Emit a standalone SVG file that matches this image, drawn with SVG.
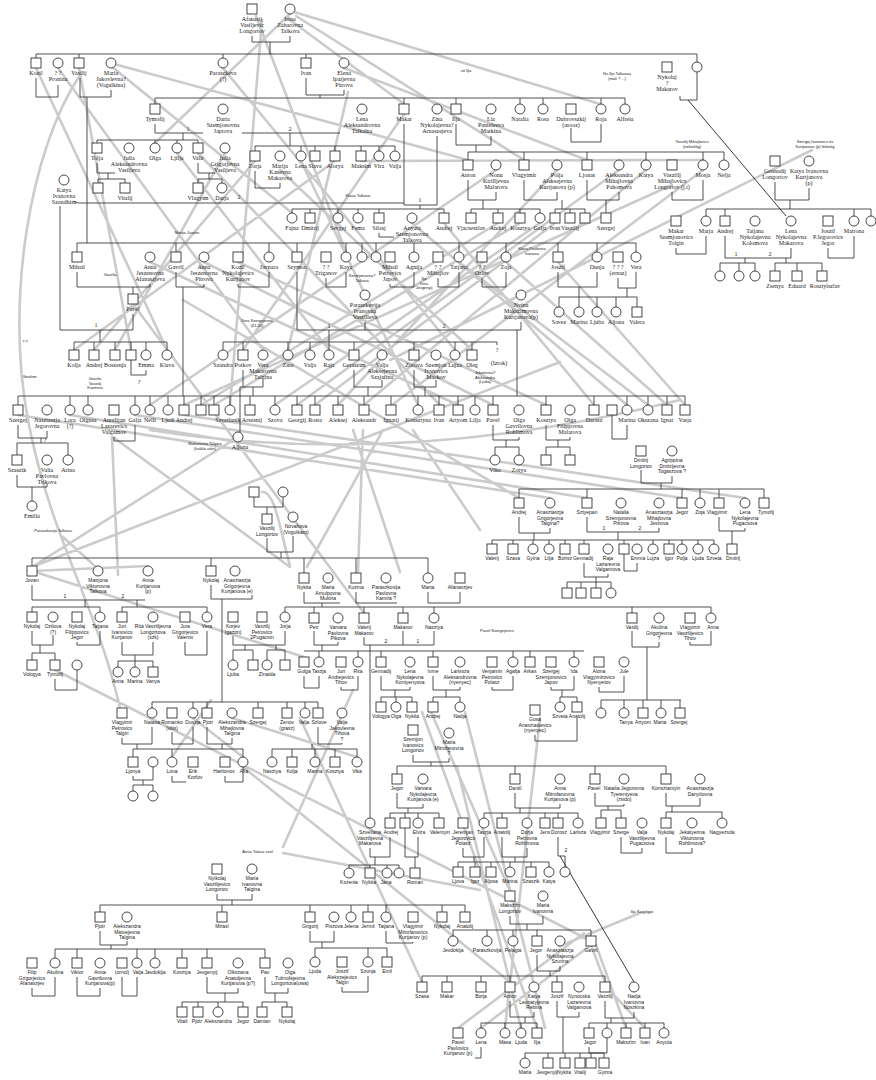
<svg xmlns="http://www.w3.org/2000/svg" width="876" height="1080" viewBox="0 0 876 1080">
<style>
.n{fill:#fff;stroke:#333;stroke-width:0.9}
.l{fill:none;stroke:#333;stroke-width:0.85}
.k{fill:none;stroke:#222;stroke-width:0.9}
.g{fill:none;stroke:#cbcbcb;stroke-width:2.6;stroke-linecap:round}
text{fill:#1a1a1a;text-anchor:middle}
.t{font-family:"Liberation Serif",serif;font-size:6px}
.u{font-family:"Liberation Sans",sans-serif;font-size:5px}
.a{font-family:"Liberation Sans",sans-serif;font-size:4px;fill:#b5b5b5}
</style>
<defs>
<rect id="s" class="n" x="-5" y="-5" width="10" height="10"/>
<circle id="c" class="n" r="5"/>
</defs>
<rect width="876" height="1080" fill="#fff"/>
<g id="connectors">
<path class="g" d="M290,14L155,143 M294,12L600,104 M296,16L524,160 M256,16L346,252 M262,20L230,405 M286,17L404,104 M36,68L167,350 M58,68L263,350 M80,75C30,150 5,300 28,420S95,600 120,708 M111,66L292,213 M114,64L468,160 M223,68L455,350 M344,68L587,160 M348,92L288,350 M404,114L243,350 M79,68L131,350 M177,153L329,350 M198,153L440,405 M225,153L115,350 M255,161L94,350 M280,170L472,350 M301,161L418,405 M335,161L74,350 M361,161L703,160 M379,161L646,160 M812,150L390,360 M496,170L150,405 M557,170L338,405 M619,170L297,405 M646,170L364,405 M672,185L184,405 M703,170L392,405 M498,223L201,405 M520,223L214,405 M540,223L275,405 M555,223L315,405 M444,223L594,405 M412,223L627,405 M558,262L685,405 M506,262L667,405 M459,262L648,405 M150,262L458,405 M204,262L493,405 M238,262L546,405 M133,304L364,613 M183,300L519,498 M18,415L550,498 M70,415L587,498 M135,415L682,498 M184,415L745,498 M32,567L560,362 M32,567L238,437 M112,437L118,575 M113,437L290,567 M63,537L97,568 M262,492C275,490 280,530 290,566 M363,430L358,572 M383,430L307,567 M353,430L400,572 M413,430L480,530 M32,571L304,657 M32,571L148,566 M55,670L591,941 M283,847L353,690 M283,853L480,890 M211,700L172,757 M193,718L243,757 M232,718L357,757 M243,767L510,982 M300,718L422,982 M431,712L510,891 M465,712L545,1028 M458,1028L584,933 M481,1028L591,945 M505,1028L540,718 M521,1028L457,767 M537,1028L422,712 M605,982L591,945 M596,945L626,1028 M611,992L645,1028 M560,946L640,913 M150,430Q400,470 680,400"/>
<path class="l" d="M252,36V42H290V36 M270,42V54 M36,54H697 M36,54V58 M79,54V58 M223,54V58 M306,54V58 M697,54V62 M36,78V97H58V85 M80,78V97H111V90 M87,97V243 M306,78V95H344V90 M320,95V98 M155,98H625 M155,98V104 M404,98V104 M456,98V104 M520,98V104 M543,98V104 M601,98V104 M625,98V104 M680,96V100H697V72
M155,124V133H203 M242,133H340 M183,133V140 M97,140H198 M97,140V143 M155,140V143 M177,140V143 M198,140V143 M290,133V146 M255,146H395 M255,146V151 M301,146V151 M315,146V151 M335,146V151 M361,146V151 M379,146V151 M395,146V151
M97,163V173H115 M108,173V179 M98,179H125 M98,179V183 M125,179V183 M198,163V173H215 M209,173V179 M198,179H222 M198,179V183 M222,179V183 M255,171V188H280V183
M404,124V205H437V136 M73,201L78,203H404 M420,205V209 M292,209H444 M292,209V213 M310,209V213 M338,209V213 M358,209V213 M379,209V213 M444,209V213 M379,233V237H394
M456,124V145H491V136 M476,145V152 M468,152H724 M468,152V160 M524,152V160 M587,152V160 M646,152V160 M703,152V160 M724,152V160
M468,180V200H496V192 M483,200V209 M471,209H540 M471,209V213 M498,209V213 M520,209V213 M540,209V213 M524,180V200H557V192 M562,200V209 M555,209H585 M555,209V213 M570,209V213 M585,209V213 M587,180V200H619V192 M606,200V213 M672,192V200H703V180 M571,128V142H601V124
M775,182V200H809V188 M790,200V209 M706,209H871 M706,209V216 M725,209V216 M854,209V216 M871,209V216 M676,248V254H706V236 M725,236V258H791V248 M745,258V263 M720,263H755 M720,263V271 M739,263V271 M755,263V271 M786,258V263 M775,263H822 M775,263V271 M797,263V271 M822,263V271 M828,248V258H854V236
M77,243H636 M77,243V252 M176,243V252 M269,243V252 M297,243V252 M346,243V252 M362,243V252 M376,243V252 M414,243V252 M459,243V252 M506,243V252 M558,243V252 M597,243V252 M636,243V252
M77,272V287H150V284 M133,287V294 M176,272V287H204V284 M183,287V396 M238,284V287H269V272 M326,278V287H346V272 M390,284V287H414V272 M438,278V287H459V272 M482,278V287H506V272 M558,272V287H597V272 M618,278V288H636V272 M579,287V297 M627,288V297 M559,297H637 M559,297V307 M579,297V307 M597,297V307 M616,297V307 M637,297V307
M297,272V330H521V322 M365,322V330 M329,330V342 M223,342H497 M223,342V350 M243,342V350 M288,342V350 M310,342V350 M329,342V350 M354,342V350 M414,342V350 M455,342V350 M472,342V350 M497,342V345 M517,330V396
M60,206V330H133V314 M100,330V342 M74,342H167 M74,342V350 M94,342V350 M115,342V350 M131,342V350 M146,342V350 M167,342V350 M131,360V375H146V370
M243,370V387H263V380 M240,387H243 M240,387V432 M253,387V396 M354,370V387H382V380 M368,387V396 M414,370V387H436V380 M425,387V396
M18,396H685 M18,396V405 M70,396V405 M88,396V405 M135,396V405 M150,396V405 M168,396V405 M184,396V405 M201,396V405 M214,396V405 M230,396V405 M250,396V405 M275,396V405 M297,396V405 M315,396V405 M338,396V405 M364,396V405 M391,396V405 M418,396V405 M439,396V405 M458,396V405 M475,396V405 M493,396V405 M546,396V405 M594,396V405 M627,396V405 M648,396V405 M667,396V405 M685,396V405
M18,425V438H47V431 M41,438V443 M17,443H68 M17,443V455 M68,443V455 M17,475V487H47V484 M32,487V501 M114,437V441H135V425 M493,425V440H519V437 M506,440V447 M495,447H519 M495,447V455 M519,447V455 M546,425V440H570V437 M558,440V447 M546,447H570 M546,447V455 M570,447V455 M612,415V439H627V425
M254,497V507H283V497 M267,507V514 M267,538V552H293V536 M281,552V558 M32,558H428 M32,558V566 M211,558V566 M304,558V573 M356,558V573 M428,558V573
M32,585V600H145 M85,600V607 M32,607H100 M32,607V612 M100,607V612 M137,600V607 M122,607H207 M122,607V612 M207,607V612 M211,585V599H252V595 M222,599V702 M304,592V603H340 M322,603V607 M356,592V603H397 M428,592V603H460V592
M285,607H711 M285,607V612 M314,607V613 M364,607V613 M403,607V613 M434,607V613 M632,607V613 M711,607V613
M32,631V645H53V635 M40,645V653 M32,653H55 M32,653V660 M55,653V660 M55,679V690H77V670 M77,642V645H100V631 M122,642V655H153V642 M135,655V661 M118,661H153 M118,661V667 M135,661V667 M153,661V667 M185,642V655H207V631 M233,636V645H285V631 M245,645V650 M233,650H253 M233,650V660 M253,650V660 M276,645V650 M267,650H285 M267,650V660 M285,650V660
M314,631V645H338V642 M322,645V651 M304,651H584 M319,651V657 M358,651V657 M381,651V657 M433,651V657 M513,651V657 M530,651V657 M574,651V657 M364,637V645H434V631 M403,631V645 M370,645V818
M632,631V647H659V642 M647,647V700 M601,700H681 M601,700V708 M624,700V708 M643,700V708 M661,700V708 M680,700V708 M690,642V645H711V631
M304,676V688H319V676 M341,687V690H358V676 M381,676V690H410V687 M395,690V697 M381,697H412 M381,697V702 M396,697V702 M412,697V702 M433,676V690H460V687 M446,690V697 M433,697H460 M433,697V702 M460,697V702 M492,687V690H513V676 M551,687V690H574V676 M562,690V697 M560,697H577 M560,697V702 M577,697V702 M599,687V692H624V676 M535,735V741H577V718
M641,470V483H672V476 M661,483V489 M519,489H764 M519,489V498 M587,489V498 M682,489V498 M700,489V498 M719,489V498 M764,489V498 M519,517V533H550V528 M534,533V540 M587,517V532H659V528 M618,532V540 M719,517V531H745V528 M732,531V544
M492,540H714 M492,540V544 M513,540V544 M533,540V544 M549,540V544 M565,540V544 M584,540V544 M624,540V544 M653,540V544 M669,540V544 M682,540V544 M698,540V544 M714,540V544 M584,563V577H608V574 M596,577V582 M567,582H611 M567,582V588 M581,582V588 M596,582V588 M611,582V588 M624,554V571H637V563
M413,755V762H449V758 M431,762V766 M397,766H666 M397,766V774 M515,766V774 M595,766V774 M666,766V774
M397,793V808H423V804 M408,808V813 M390,813H439 M390,813V818 M405,813V818 M418,813V818 M439,813V818 M515,793V808H560V804 M520,808V813 M484,813H578 M484,813V818 M502,813V818 M545,813V818 M558,813V818 M578,813V818 M595,793V806H624V804 M608,806V810 M601,810H621 M601,810V818 M621,810V818 M666,793V806H700V798 M672,806V812 M666,812H722 M666,812V818 M722,812V818
M370,848V857H390V837 M375,857V865 M349,865H399 M349,865V868 M370,865V868 M387,865V868 M399,865V868 M405,828V857H418V837 M415,857V868 M463,848V857H484V837 M502,837V857H527V848 M474,857V862 M515,857V862 M458,862H549 M458,862V867 M475,862V867 M491,862V867 M510,862V867 M531,862V867 M549,862V867 M558,837V856H565V867 M621,837V853H642V848 M666,837V853H692V848
M510,916V924H543V916 M527,924V930 M453,930H591 M453,930V936 M487,930V936 M513,930V936 M537,930V936 M591,930V936 M537,955V971H560V966 M550,971V976 M422,976H605 M422,976V982 M447,976V982 M481,976V982 M510,976V982 M557,976V982 M605,976V982
M510,1001V1017H534V1012 M525,1017V1023 M481,1023H537 M481,1023V1028 M505,1023V1028 M521,1023V1028 M537,1023V1028 M481,1047V1058H475 M557,1001V1017H579V1012 M563,1017V1053 M525,1053H604 M525,1053V1058 M548,1053V1058 M565,1053V1058 M580,1053V1058 M591,1053V1058 M604,1053V1058 M605,1001V1018H634V1012 M611,1018V1023 M589,1023H664 M589,1023V1028 M607,1023V1028 M626,1023V1028 M645,1023V1028 M664,1023V1028 M589,1047V1053H607V1038
M217,894V900H252V894 M232,900V905 M100,905H465 M100,905V912 M222,905V912 M310,905V912 M351,905V912 M368,905V912 M386,905V912 M442,905V912 M465,905V912 M310,931V942H334V931 M322,942V948 M315,948H387 M315,948V957 M368,948V957 M387,948V957 M342,987V992H368V976 M386,931V943H413V942
M100,931V945H127V941 M111,945V949 M55,949H265 M55,949V958 M77,949V958 M137,949V958 M155,949V958 M182,949V958 M207,949V958 M265,949V958 M32,988V996H55V977 M77,977V996H100V988 M122,977V996H137V977 M207,977V993H238V988 M225,993V1002 M182,1002H243 M182,1002V1007 M198,1002V1007 M218,1002V1007 M243,1002V1007 M265,977V993H288V988 M275,993V1002 M262,1002H287 M262,1002V1007 M287,1002V1007
M152,702H318 M152,702V708 M193,702V708 M207,702V708 M258,702V708 M287,702V708 M305,702V708 M318,702V708 M122,738V744H152V727 M172,732V744H193V727 M207,727V744H232V738 M137,744V749 M222,744V749 M133,749H243 M133,749V757 M172,749V757 M243,749V757 M133,776V780H153V767 M143,780V785 M133,785H153 M133,785V791 M153,785V791 M172,776V782H186 M225,776V782H243V767 M318,727V744H342V743 M312,744V749 M272,749H357 M272,749V757 M292,749V757 M315,749V757 M335,749V757 M357,749V757"/>
<path class="k" d="M688,100L786,216 M560,856L634,982"/>
</g>
<g id="marks" class="t">
<text x="188" y="131">1</text><text x="290" y="131">2</text><text x="420" y="202">1</text><text x="239" y="199">2</text><text x="96" y="327">1</text><text x="329" y="328">1</text><text x="444" y="328">2</text><text x="139" y="384">?</text><text x="45" y="442">?</text><text x="736" y="256">1</text><text x="770" y="256">2</text>
</g>
<g id="marks2" class="u">
<text x="65" y="598">1</text><text x="123" y="598">2</text><text x="386" y="643">2</text><text x="418" y="643">1</text><text x="604" y="530">1</text><text x="640" y="530">2</text><text x="566" y="852">2</text>
</g>
<g id="notes" class="a">
<text x="466" y="72">vő Ilja</text>
<text x="617" y="75">Nu Ilja Talkasza<tspan x="617" dy="4.5">(mali ? ...)</tspan></text>
<text x="692" y="143">Vaszilij Mihajlovics<tspan x="692" dy="4.5">(nekrológ)</tspan></text>
<text x="815" y="143">Szergej Ivanovics és<tspan x="815" dy="4.5">Kurtjanova (p) feleség</tspan></text>
<text x="358" y="197">Klava Talkova</text>
<text x="187" y="234">Marija Jusztin</text>
<text x="110" y="276">Gavrila</text>
<text x="257" y="322">Dina Szergejevna<tspan x="257" dy="4.5">(61.20)</tspan></text>
<text x="362" y="277">Szemjonovna?<tspan x="362" dy="4.5">Talkova</tspan></text>
<text x="424" y="280">Ilja<tspan x="424" dy="4.5">Irina</tspan><tspan x="424" dy="4.5">Jevgenyij</tspan></text>
<text x="532" y="250">Klava Pavlovna<tspan x="532" dy="4.5">Ivanova</tspan></text>
<text x="25" y="343">?.?</text>
<text x="30" y="378">Ibrahim</text>
<text x="95" y="380">Gavrila<tspan x="95" dy="4.5">Vaszilij</tspan><tspan x="95" dy="4.5">Kuzmina</tspan></text>
<text x="485" y="374">Jekaterina?<tspan x="485" dy="4.5">Aleksandra</tspan><tspan x="485" dy="4.5">(Ljuba)</tspan></text>
<text x="205" y="445">Makarovna Talgina<tspan x="205" dy="4.5">(halála után)</tspan></text>
<text x="53" y="532">Paraszkovija Talkova</text>
<text x="497" y="632">Pavel Szergejevics</text>
<text x="258" y="853">Anna Talova szül.</text>
<text x="642" y="913">Ilja Kagylgyo</text>
</g>
<g id="nodes">
<g id="n1"><use href="#s" x="252" y="9"/><text class="t" x="252" y="21">Afanasij<tspan x="252" dy="6">Vasiljevic</tspan><tspan x="252" dy="6">Longortov</tspan></text></g>
<g id="n2"><use href="#c" x="290" y="9"/><text class="t" x="290" y="21">Irina<tspan x="290" dy="6">Zaharovna</tspan><tspan x="290" dy="6">Talkova</tspan></text></g>
<g id="n3"><use href="#s" x="36" y="63"/><text class="t" x="36" y="75">Kozil</text></g>
<g id="n4"><use href="#c" x="58" y="63"/><text class="t" x="58" y="75">? ?<tspan x="58" dy="6">Pronina</tspan></text></g>
<g id="n5"><use href="#s" x="79" y="63"/><text class="t" x="79" y="75">Vasilij</text></g>
<g id="n6"><use href="#c" x="111" y="63"/><text class="t" x="111" y="75">Maria<tspan x="111" dy="6">Jakovlevna?</tspan><tspan x="111" dy="6">(Vogulkina)</tspan></text></g>
<g id="n7"><use href="#c" x="223" y="63"/><text class="t" x="223" y="75">Paraszkeva<tspan x="223" dy="6">(?)</tspan></text></g>
<g id="n8"><use href="#s" x="306" y="63"/><text class="t" x="306" y="75">Ivan</text></g>
<g id="n9"><use href="#c" x="344" y="63"/><text class="t" x="344" y="75">Elena<tspan x="344" dy="6">Ipatjevna</tspan><tspan x="344" dy="6">Pitrova</tspan></text></g>
<g id="n10"><use href="#s" x="667" y="67"/><text class="t" x="667" y="79">Nykolaj<tspan x="667" dy="6">?</tspan><tspan x="667" dy="6">Makarov</tspan></text></g>
<g id="n11"><use href="#c" x="697" y="67"/></g>
<g id="n12"><use href="#s" x="155" y="109"/><text class="t" x="155" y="121">Tymofij</text></g>
<g id="n13"><use href="#c" x="223" y="109"/><text class="t" x="223" y="121">Daria<tspan x="223" dy="6">Szemjonovna</tspan><tspan x="223" dy="6">Japtova</tspan></text></g>
<g id="n14"><use href="#c" x="362" y="109"/><text class="t" x="362" y="121">Lena<tspan x="362" dy="6">Aleksandrovna</tspan><tspan x="362" dy="6">Talkalna</tspan></text></g>
<g id="n15"><use href="#s" x="404" y="109"/><text class="t" x="404" y="121">Makar</text></g>
<g id="n16"><use href="#c" x="437" y="109"/><text class="t" x="437" y="121">Zina<tspan x="437" dy="6">Nykolajevna?</tspan><tspan x="437" dy="6">Arnaszejeva</tspan></text></g>
<g id="n17"><use href="#s" x="456" y="109"/><text class="t" x="456" y="121">Ilja</text></g>
<g id="n18"><use href="#c" x="491" y="109"/><text class="t" x="491" y="121">Lia<tspan x="491" dy="6">Panteleeva</tspan><tspan x="491" dy="6">Markina</tspan></text></g>
<g id="n19"><use href="#c" x="520" y="109"/><text class="t" x="520" y="121">Natalia</text></g>
<g id="n20"><use href="#c" x="543" y="109"/><text class="t" x="543" y="121">Rosa</text></g>
<g id="n21"><use href="#s" x="571" y="109"/><text class="t" x="571" y="121">Dubrovszkij<tspan x="571" dy="6">(asooz)</tspan></text></g>
<g id="n22"><use href="#c" x="601" y="109"/><text class="t" x="601" y="121">Roja</text></g>
<g id="n23"><use href="#c" x="625" y="109"/><text class="t" x="625" y="121">Alfreia</text></g>
<g id="n24"><use href="#s" x="97" y="148"/><text class="t" x="97" y="160">Tolja</text></g>
<g id="n25"><use href="#c" x="129" y="148"/><text class="t" x="129" y="160">Julia<tspan x="129" dy="6">Aleksandrovna</tspan><tspan x="129" dy="6">Vasiljeva</tspan></text></g>
<g id="n26"><use href="#c" x="155" y="148"/><text class="t" x="155" y="160">Olga</text></g>
<g id="n27"><use href="#c" x="177" y="148"/><text class="t" x="177" y="160">Ljilja</text></g>
<g id="n28"><use href="#s" x="198" y="148"/><text class="t" x="198" y="160">Valir</text></g>
<g id="n29"><use href="#c" x="225" y="148"/><text class="t" x="225" y="160">Julia<tspan x="225" dy="6">Grigorjevna</tspan><tspan x="225" dy="6">Vasiljeva</tspan></text></g>
<g id="n30"><use href="#s" x="98" y="188"/></g>
<g id="n31"><use href="#s" x="125" y="188"/><text class="t" x="125" y="200">Vitalij</text></g>
<g id="n32"><use href="#s" x="198" y="188"/><text class="t" x="198" y="200">Vlagyim</text></g>
<g id="n33"><use href="#c" x="222" y="188"/><text class="t" x="222" y="200">Darja</text></g>
<g id="n34"><use href="#s" x="255" y="156"/><text class="t" x="255" y="168">Zorja</text></g>
<g id="n35"><use href="#c" x="280" y="156"/><text class="t" x="280" y="168">Marija<tspan x="280" dy="6">Kanevna</tspan><tspan x="280" dy="6">Makarova</tspan></text></g>
<g id="n36"><use href="#c" x="301" y="156"/><text class="t" x="301" y="168">Lena</text></g>
<g id="n37"><use href="#s" x="315" y="156"/><text class="t" x="315" y="168">Slava</text></g>
<g id="n38"><use href="#s" x="335" y="156"/><text class="t" x="335" y="168">Alorya</text></g>
<g id="n39"><use href="#s" x="361" y="156"/><text class="t" x="361" y="168">Maksim</text></g>
<g id="n40"><use href="#c" x="379" y="156"/><text class="t" x="379" y="168">Vira</text></g>
<g id="n41"><use href="#c" x="395" y="156"/><text class="t" x="395" y="168">Valja</text></g>
<g id="n42"><use href="#c" x="292" y="218"/><text class="t" x="292" y="230">Fajna</text></g>
<g id="n43"><use href="#s" x="310" y="218"/><text class="t" x="310" y="230">Dmitrij</text></g>
<g id="n44"><use href="#c" x="338" y="218"/><text class="t" x="338" y="230">Sevgej</text></g>
<g id="n45"><use href="#c" x="358" y="218"/><text class="t" x="358" y="230">Fema</text></g>
<g id="n46"><use href="#s" x="379" y="218"/><text class="t" x="379" y="230">Silasj</text></g>
<g id="n47"><use href="#c" x="412" y="218"/><text class="t" x="412" y="230">Anyata<tspan x="412" dy="6">Szemjonovna</tspan><tspan x="412" dy="6">Talkova</tspan></text></g>
<g id="n48"><use href="#s" x="444" y="218"/><text class="t" x="444" y="230">Andrej</text></g>
<g id="n49"><use href="#c" x="64" y="180"/><text class="t" x="64" y="192">Katya<tspan x="64" dy="6">Ivanovna</tspan><tspan x="64" dy="6">Szandhisa</tspan></text></g>
<g id="n50"><use href="#s" x="468" y="165"/><text class="t" x="468" y="177">Anton</text></g>
<g id="n51"><use href="#c" x="496" y="165"/><text class="t" x="496" y="177">Nonu<tspan x="496" dy="6">Kirilljevna</tspan><tspan x="496" dy="6">Malarova</tspan></text></g>
<g id="n52"><use href="#s" x="524" y="165"/><text class="t" x="524" y="177">Vlagyimir</text></g>
<g id="n53"><use href="#c" x="557" y="165"/><text class="t" x="557" y="177">Polja<tspan x="557" dy="6">Aleksejevna</tspan><tspan x="557" dy="6">Kurtjanova (p)</tspan></text></g>
<g id="n54"><use href="#s" x="587" y="165"/><text class="t" x="587" y="177">Ljonas</text></g>
<g id="n55"><use href="#c" x="619" y="165"/><text class="t" x="619" y="177">Aleksandra<tspan x="619" dy="6">Mihajlovna</tspan><tspan x="619" dy="6">Pahomova</tspan></text></g>
<g id="n56"><use href="#c" x="646" y="165"/><text class="t" x="646" y="177">Katya</text></g>
<g id="n57"><use href="#s" x="672" y="165"/><text class="t" x="672" y="177">Vaszilij<tspan x="672" dy="6">Mihajlovics</tspan><tspan x="672" dy="6">Longortov (j.t)</tspan></text></g>
<g id="n58"><use href="#c" x="703" y="165"/><text class="t" x="703" y="177">Mosja</text></g>
<g id="n59"><use href="#c" x="724" y="165"/><text class="t" x="724" y="177">Nelja</text></g>
<g id="n60"><use href="#s" x="471" y="218"/><text class="t" x="471" y="230">Vjacseszlav</text></g>
<g id="n61"><use href="#s" x="498" y="218"/><text class="t" x="498" y="230">Andrej</text></g>
<g id="n62"><use href="#s" x="520" y="218"/><text class="t" x="520" y="230">Kosztya</text></g>
<g id="n63"><use href="#c" x="540" y="218"/><text class="t" x="540" y="230">Galja</text></g>
<g id="n64"><use href="#s" x="555" y="218"/><text class="t" x="555" y="230">Ivan</text></g>
<g id="n65"><use href="#s" x="570" y="218"/><text class="t" x="570" y="230">Vaszilij</text></g>
<g id="n66"><use href="#s" x="585" y="218"/></g>
<g id="n67"><use href="#s" x="606" y="218"/><text class="t" x="606" y="230">Szergej</text></g>
<g id="n68"><use href="#s" x="775" y="161"/><text class="t" x="775" y="173">Gennadij<tspan x="775" dy="6">Longortov</tspan></text></g>
<g id="n69"><use href="#c" x="809" y="161"/><text class="t" x="809" y="173">Katya Ivanovna<tspan x="809" dy="6">Kurtjanova</tspan><tspan x="809" dy="6">(p)</tspan></text></g>
<g id="n70"><use href="#s" x="676" y="221"/><text class="t" x="676" y="233">Makar<tspan x="676" dy="6">Szemjonovics</tspan><tspan x="676" dy="6">Tolgin</tspan></text></g>
<g id="n71"><use href="#c" x="706" y="221"/><text class="t" x="706" y="233">Marja</text></g>
<g id="n72"><use href="#s" x="725" y="221"/><text class="t" x="725" y="233">Andrej</text></g>
<g id="n73"><use href="#c" x="755" y="221"/><text class="t" x="755" y="233">Tatjana<tspan x="755" dy="6">Nykolajevna</tspan><tspan x="755" dy="6">Kolomova</tspan></text></g>
<g id="n74"><use href="#c" x="791" y="221"/><text class="t" x="791" y="233">Lena<tspan x="791" dy="6">Nykolajevna</tspan><tspan x="791" dy="6">Makarova</tspan></text></g>
<g id="n75"><use href="#s" x="828" y="221"/><text class="t" x="828" y="233">Joszif<tspan x="828" dy="6">P.Jegorovics</tspan><tspan x="828" dy="6">Jegor</tspan></text></g>
<g id="n76"><use href="#c" x="854" y="221"/><text class="t" x="854" y="233">Matrona</text></g>
<g id="n77"><use href="#c" x="871" y="221"/></g>
<g id="n78"><use href="#c" x="720" y="276"/></g>
<g id="n79"><use href="#c" x="739" y="276"/></g>
<g id="n80"><use href="#c" x="755" y="276"/></g>
<g id="n81"><use href="#s" x="775" y="276"/><text class="t" x="775" y="288">Zsenya</text></g>
<g id="n82"><use href="#s" x="797" y="276"/><text class="t" x="797" y="288">Eduard</text></g>
<g id="n83"><use href="#s" x="822" y="276"/><text class="t" x="825" y="288">Rosztyiszlav</text></g>
<g id="n84"><use href="#s" x="77" y="257"/><text class="t" x="77" y="269">Mihail</text></g>
<g id="n85"><use href="#c" x="150" y="257"/><text class="t" x="150" y="269">Anna<tspan x="150" dy="6">Jeszenovna</tspan><tspan x="150" dy="6">Afanaszjeva</tspan></text></g>
<g id="n86"><use href="#s" x="176" y="257"/><text class="t" x="176" y="269">Gavril</text></g>
<g id="n87"><use href="#c" x="204" y="257"/><text class="t" x="204" y="269">Anna<tspan x="204" dy="6">Jeszenovna</tspan><tspan x="204" dy="6">Pitrova</tspan></text></g>
<g id="n88"><use href="#s" x="238" y="257"/><text class="t" x="238" y="269">Kozil<tspan x="238" dy="6">Nykolajevics</tspan><tspan x="238" dy="6">Kurtjanov</tspan></text></g>
<g id="n89"><use href="#c" x="269" y="257"/><text class="t" x="269" y="269">Javnara</text></g>
<g id="n90"><use href="#s" x="297" y="257"/><text class="t" x="297" y="269">Szymon</text></g>
<g id="n91"><use href="#s" x="326" y="257"/><text class="t" x="326" y="269">? ?<tspan x="326" dy="6">Triganov</tspan></text></g>
<g id="n92"><use href="#c" x="346" y="257"/><text class="t" x="346" y="269">Kaya</text></g>
<g id="n93"><use href="#c" x="362" y="257"/></g>
<g id="n94"><use href="#c" x="376" y="257"/></g>
<g id="n95"><use href="#s" x="390" y="257"/><text class="t" x="390" y="269">Mihail<tspan x="390" dy="6">Petrovics</tspan><tspan x="390" dy="6">Japov</tspan></text></g>
<g id="n96"><use href="#c" x="414" y="257"/><text class="t" x="414" y="269">Agnija</text></g>
<g id="n97"><use href="#s" x="438" y="257"/><text class="t" x="438" y="269">? ?<tspan x="438" dy="6">Mihajlov</tspan></text></g>
<g id="n98"><use href="#c" x="459" y="257"/><text class="t" x="459" y="269">Tatjana</text></g>
<g id="n99"><use href="#s" x="482" y="257"/><text class="t" x="482" y="269">? ?<tspan x="482" dy="6">Ozlov</tspan></text></g>
<g id="n100"><use href="#c" x="506" y="257"/><text class="t" x="506" y="269">Zoja</text></g>
<g id="n101"><use href="#s" x="558" y="257"/><text class="t" x="558" y="269">Joszif</text></g>
<g id="n102"><use href="#c" x="597" y="257"/><text class="t" x="597" y="269">Dunja</text></g>
<g id="n103"><use href="#s" x="618" y="257"/><text class="t" x="618" y="269">? ? ?<tspan x="618" dy="6">(ernaz)</tspan></text></g>
<g id="n104"><use href="#c" x="636" y="257"/><text class="t" x="636" y="269">Vera</text></g>
<g id="n105"><use href="#s" x="133" y="299"/><text class="t" x="133" y="311">Pavel</text></g>
<g id="n106"><use href="#c" x="559" y="312"/><text class="t" x="559" y="324">Savez</text></g>
<g id="n107"><use href="#c" x="579" y="312"/><text class="t" x="579" y="324">Marina</text></g>
<g id="n108"><use href="#c" x="597" y="312"/><text class="t" x="597" y="324">Ljuba</text></g>
<g id="n109"><use href="#c" x="616" y="312"/><text class="t" x="616" y="324">Aljona</text></g>
<g id="n110"><use href="#s" x="637" y="312"/><text class="t" x="637" y="324">Valera</text></g>
<g id="n111"><use href="#c" x="365" y="295"/><text class="t" x="365" y="307">Paraszkevija<tspan x="365" dy="6">Ivanovna</tspan><tspan x="365" dy="6">Vaszilieva</tspan></text></g>
<g id="n112"><use href="#c" x="521" y="295"/><text class="t" x="521" y="307">Nvina<tspan x="521" dy="6">Makszimovna</tspan><tspan x="521" dy="6">Kurtjanova(p)</tspan></text></g>
<g id="n113"><use href="#c" x="223" y="355"/><text class="t" x="223" y="367">Szandra</text></g>
<g id="n114"><use href="#s" x="243" y="355"/><text class="t" x="243" y="367">Potkov</text></g>
<g id="n115"><use href="#c" x="263" y="355"/><text class="t" x="263" y="367">Vera<tspan x="263" dy="6">Makarovna</tspan><tspan x="263" dy="6">Talgina</tspan></text></g>
<g id="n116"><use href="#c" x="288" y="355"/><text class="t" x="288" y="367">Zina</text></g>
<g id="n117"><use href="#c" x="310" y="355"/><text class="t" x="310" y="367">Valja</text></g>
<g id="n118"><use href="#c" x="329" y="355"/><text class="t" x="329" y="367">Raja</text></g>
<g id="n119"><use href="#s" x="354" y="355"/><text class="t" x="354" y="367">Geraszim</text></g>
<g id="n120"><use href="#c" x="382" y="355"/><text class="t" x="382" y="367">Valja<tspan x="382" dy="6">Aleksejevna</tspan><tspan x="382" dy="6">Szajafina</tspan></text></g>
<g id="n121"><use href="#s" x="414" y="355"/><text class="t" x="414" y="367">Zorova</text></g>
<g id="n122"><use href="#c" x="436" y="355"/><text class="t" x="436" y="367">Szemjon<tspan x="436" dy="6">Ivanovics</tspan><tspan x="436" dy="6">Mackov</tspan></text></g>
<g id="n123"><use href="#c" x="455" y="355"/><text class="t" x="455" y="367">Lujza</text></g>
<g id="n124"><use href="#s" x="472" y="355"/><text class="t" x="472" y="367">Oleg</text></g>
<g id="n125"><text class="t" x="497" y="352">?</text><text class="t" x="499" y="365">(Izrok)</text></g>
<g id="n126"><use href="#s" x="74" y="355"/><text class="t" x="74" y="367">Kolja</text></g>
<g id="n127"><use href="#s" x="94" y="355"/><text class="t" x="94" y="367">Andrej</text></g>
<g id="n128"><use href="#s" x="115" y="355"/><text class="t" x="115" y="367">Boszenja</text></g>
<g id="n129"><use href="#s" x="131" y="355"/></g>
<g id="n130"><use href="#c" x="146" y="355"/><text class="t" x="146" y="367">Emma</text></g>
<g id="n131"><use href="#c" x="167" y="355"/><text class="t" x="167" y="367">Klava</text></g>
<g id="n132"><use href="#s" x="18" y="410"/><text class="t" x="18" y="422">Szergej</text></g>
<g id="n133"><use href="#c" x="47" y="410"/><text class="t" x="47" y="422">Nasztaszja<tspan x="47" dy="6">Jegorovna</tspan></text></g>
<g id="n134"><use href="#c" x="70" y="410"/><text class="t" x="70" y="422">Lora<tspan x="70" dy="6">(?)</tspan></text></g>
<g id="n135"><use href="#c" x="88" y="410"/><text class="t" x="88" y="422">Olgusa</text></g>
<g id="n136"><use href="#s" x="114" y="410"/><text class="t" x="114" y="422">Aurelijan<tspan x="114" dy="6">Lazarevics</tspan><tspan x="114" dy="6">Valgamov</tspan></text></g>
<g id="n137"><use href="#c" x="135" y="410"/><text class="t" x="135" y="422">Galja</text></g>
<g id="n138"><use href="#c" x="150" y="410"/><text class="t" x="150" y="422">Nelli</text></g>
<g id="n139"><use href="#c" x="168" y="410"/><text class="t" x="168" y="422">Ljudi</text></g>
<g id="n140"><use href="#s" x="184" y="410"/><text class="t" x="184" y="422">Andrej</text></g>
<g id="n141"><use href="#s" x="201" y="410"/></g>
<g id="n142"><use href="#s" x="214" y="410"/></g>
<g id="n143"><use href="#c" x="230" y="410"/><text class="t" x="228" y="422">Szvetlanik</text></g>
<g id="n144"><use href="#s" x="250" y="410"/><text class="t" x="252" y="422">Arszenij</text></g>
<g id="n145"><use href="#c" x="275" y="410"/><text class="t" x="275" y="422">Szova</text></g>
<g id="n146"><use href="#s" x="297" y="410"/><text class="t" x="297" y="422">Georgij</text></g>
<g id="n147"><use href="#s" x="315" y="410"/><text class="t" x="315" y="422">Rosta</text></g>
<g id="n148"><use href="#s" x="338" y="410"/><text class="t" x="338" y="422">Aleksej</text></g>
<g id="n149"><use href="#s" x="364" y="410"/><text class="t" x="364" y="422">Aleksandr</text></g>
<g id="n150"><use href="#s" x="391" y="410"/><text class="t" x="391" y="422">Ignatij</text></g>
<g id="n151"><use href="#c" x="418" y="410"/><text class="t" x="418" y="422">Konsztyna</text></g>
<g id="n152"><use href="#s" x="439" y="410"/><text class="t" x="439" y="422">Ivan</text></g>
<g id="n153"><use href="#s" x="458" y="410"/><text class="t" x="458" y="422">Artyom</text></g>
<g id="n154"><use href="#c" x="475" y="410"/><text class="t" x="475" y="422">Lilja</text></g>
<g id="n155"><use href="#s" x="493" y="410"/><text class="t" x="493" y="422">Pavel</text></g>
<g id="n156"><use href="#c" x="519" y="410"/><text class="t" x="519" y="422">Olga<tspan x="519" dy="6">Gavrilovna</tspan><tspan x="519" dy="6">Rohlimova</tspan></text></g>
<g id="n157"><use href="#s" x="546" y="410"/><text class="t" x="546" y="422">Kosztya</text></g>
<g id="n158"><use href="#c" x="570" y="410"/><text class="t" x="570" y="422">Olga<tspan x="570" dy="6">Filippovna</tspan><tspan x="570" dy="6">Malarova</tspan></text></g>
<g id="n159"><use href="#s" x="594" y="410"/><text class="t" x="594" y="422">Darasz</text></g>
<g id="n160"><use href="#s" x="612" y="410"/></g>
<g id="n161"><use href="#c" x="627" y="410"/><text class="t" x="627" y="422">Marina</text></g>
<g id="n162"><use href="#c" x="648" y="410"/><text class="t" x="648" y="422">Okszana</text></g>
<g id="n163"><use href="#s" x="667" y="410"/><text class="t" x="667" y="422">Ignat</text></g>
<g id="n164"><use href="#s" x="685" y="410"/><text class="t" x="685" y="422">Vasja</text></g>
<g id="n165"><use href="#c" x="238" y="437"/><text class="t" x="240" y="449">Aljona</text></g>
<g id="n166"><use href="#s" x="17" y="460"/><text class="t" x="17" y="472">Szaszik</text></g>
<g id="n167"><use href="#c" x="47" y="460"/><text class="t" x="47" y="472">Valia<tspan x="47" dy="6">Pavlovna</tspan><tspan x="47" dy="6">Trikova</tspan></text></g>
<g id="n168"><use href="#c" x="68" y="460"/><text class="t" x="68" y="472">Arina</text></g>
<g id="n169"><use href="#c" x="32" y="506"/><text class="t" x="32" y="518">Emilia</text></g>
<g id="n170"><use href="#c" x="495" y="460"/><text class="t" x="495" y="472">Vika</text></g>
<g id="n171"><use href="#c" x="519" y="460"/><text class="t" x="519" y="472">Zorya</text></g>
<g id="n172"><use href="#s" x="546" y="460"/></g>
<g id="n173"><use href="#s" x="570" y="460"/></g>
<g id="n174"><use href="#s" x="254" y="492"/></g>
<g id="n175"><use href="#c" x="283" y="492"/></g>
<g id="n176"><use href="#s" x="267" y="519"/><text class="u" x="267" y="530">Vaszilij<tspan x="267" dy="5.5">Longortov</tspan></text></g>
<g id="n177"><use href="#c" x="293" y="517"/><text class="u" x="296" y="528">Novahova<tspan x="296" dy="5.5">(Vogulkaro)</tspan></text></g>
<g id="n178"><use href="#s" x="32" y="571"/><text class="u" x="32" y="582">Jovan</text></g>
<g id="n179"><use href="#c" x="98" y="571"/><text class="u" x="98" y="582">Matrjona<tspan x="98" dy="5.5">Viktorovna</tspan><tspan x="98" dy="5.5">Talkova</tspan></text></g>
<g id="n180"><use href="#c" x="148" y="571"/><text class="u" x="148" y="582">Anna<tspan x="148" dy="5.5">Kurtjanova</tspan><tspan x="148" dy="5.5">(p)</tspan></text></g>
<g id="n181"><use href="#s" x="211" y="571"/><text class="u" x="211" y="582">Nykolaj</text></g>
<g id="n182"><use href="#c" x="235" y="571"/><text class="u" x="237" y="582">Anasztaszja<tspan x="237" dy="5.5">Grigorjevna</tspan><tspan x="237" dy="5.5">Kurtjanova (e)</tspan></text></g>
<g id="n183"><use href="#s" x="304" y="578"/><text class="u" x="304" y="589">Nykita</text></g>
<g id="n184"><use href="#c" x="328" y="578"/><text class="u" x="328" y="589">Maria<tspan x="328" dy="5.5">Arnulpovna</tspan><tspan x="328" dy="5.5">Mukina</tspan></text></g>
<g id="n185"><use href="#s" x="356" y="578"/><text class="u" x="356" y="589">Kuzma</text></g>
<g id="n186"><use href="#c" x="386" y="578"/><text class="u" x="386" y="589">Paraszkovija<tspan x="386" dy="5.5">Pavlovna</tspan><tspan x="386" dy="5.5">Kamira ?</tspan></text></g>
<g id="n187"><use href="#c" x="428" y="578"/><text class="u" x="428" y="589">Marta</text></g>
<g id="n188"><use href="#s" x="460" y="578"/><text class="u" x="460" y="589">Afanaszjev</text></g>
<g id="n189"><use href="#s" x="32" y="617"/><text class="u" x="32" y="628">Nykolaj</text></g>
<g id="n190"><use href="#c" x="53" y="617"/><text class="u" x="53" y="628">Ozilova<tspan x="53" dy="5.5">(?)</tspan></text></g>
<g id="n191"><use href="#s" x="77" y="617"/><text class="u" x="77" y="628">Nykolaj<tspan x="77" dy="5.5">Filippovics</tspan><tspan x="77" dy="5.5">Jegor</tspan></text></g>
<g id="n192"><use href="#c" x="100" y="617"/><text class="u" x="100" y="628">Tatjana</text></g>
<g id="n193"><use href="#s" x="122" y="617"/><text class="u" x="122" y="628">Juri<tspan x="122" dy="5.5">Ivanovics</tspan><tspan x="122" dy="5.5">Kurtjanov</tspan></text></g>
<g id="n194"><use href="#c" x="153" y="617"/><text class="u" x="153" y="628">Rita Vaszilijevna<tspan x="153" dy="5.5">Longortova</tspan><tspan x="153" dy="5.5">(szk)</tspan></text></g>
<g id="n195"><use href="#s" x="185" y="617"/><text class="u" x="185" y="628">Jura<tspan x="185" dy="5.5">Grigorjevics</tspan><tspan x="185" dy="5.5">Valerov</tspan></text></g>
<g id="n196"><use href="#c" x="207" y="617"/><text class="u" x="207" y="628">Vera</text></g>
<g id="n197"><use href="#s" x="233" y="617"/><text class="u" x="233" y="628">Korjev<tspan x="233" dy="5.5">(gazon)</tspan></text></g>
<g id="n198"><use href="#s" x="262" y="617"/><text class="u" x="262" y="628">Vaszilij<tspan x="262" dy="5.5">Petrovics</tspan><tspan x="262" dy="5.5">2Pugacsin</tspan></text></g>
<g id="n199"><use href="#c" x="285" y="617"/><text class="u" x="285" y="628">Jorja</text></g>
<g id="n200"><use href="#s" x="314" y="618"/><text class="u" x="314" y="629">Petr</text></g>
<g id="n201"><use href="#c" x="338" y="618"/><text class="u" x="338" y="629">Varvara<tspan x="338" dy="5.5">Pavlovna</tspan><tspan x="338" dy="5.5">Pikova</tspan></text></g>
<g id="n202"><use href="#s" x="364" y="618"/><text class="u" x="364" y="629">Valerij<tspan x="364" dy="5.5">Makarov</tspan></text></g>
<g id="n203"><use href="#s" x="403" y="618"/><text class="u" x="403" y="629">Makarov</text></g>
<g id="n204"><use href="#c" x="434" y="618"/><text class="u" x="434" y="629">Nasztya</text></g>
<g id="n205"><use href="#s" x="632" y="618"/><text class="u" x="632" y="629">Vasilij</text></g>
<g id="n206"><use href="#c" x="659" y="618"/><text class="u" x="659" y="629">Akulina<tspan x="659" dy="5.5">Grigorjevna</tspan><tspan x="659" dy="5.5">?</tspan></text></g>
<g id="n207"><use href="#s" x="690" y="618"/><text class="u" x="690" y="629">Vlagyimir<tspan x="690" dy="5.5">Vaszilijevics</tspan><tspan x="690" dy="5.5">Tihov</tspan></text></g>
<g id="n208"><use href="#c" x="711" y="618"/><text class="u" x="713" y="629">Anna</text></g>
<g id="n209"><use href="#s" x="32" y="665"/><text class="u" x="32" y="676">Vologya</text></g>
<g id="n210"><use href="#s" x="55" y="665"/><text class="u" x="55" y="676">Tymofij</text></g>
<g id="n211"><use href="#c" x="77" y="665"/></g>
<g id="n212"><use href="#c" x="118" y="672"/><text class="u" x="118" y="683">Anna</text></g>
<g id="n213"><use href="#c" x="135" y="672"/><text class="u" x="135" y="683">Marina</text></g>
<g id="n214"><use href="#s" x="153" y="672"/><text class="u" x="153" y="683">Vanya</text></g>
<g id="n215"><use href="#c" x="233" y="665"/><text class="u" x="233" y="676">Ljuba</text></g>
<g id="n216"><use href="#s" x="253" y="665"/></g>
<g id="n217"><use href="#c" x="267" y="665"/><text class="u" x="267" y="676">Zinaida</text></g>
<g id="n218"><use href="#s" x="285" y="665"/></g>
<g id="n219"><use href="#s" x="304" y="662"/><text class="u" x="304" y="673">Gulga</text></g>
<g id="n220"><use href="#c" x="319" y="662"/><text class="u" x="319" y="673">Taszja</text></g>
<g id="n221"><use href="#s" x="341" y="662"/><text class="u" x="341" y="673">Juri<tspan x="341" dy="5.5">Andrejevics</tspan><tspan x="341" dy="5.5">Tihov</tspan></text></g>
<g id="n222"><use href="#c" x="358" y="662"/><text class="u" x="358" y="673">Rita</text></g>
<g id="n223"><use href="#s" x="381" y="662"/><text class="u" x="381" y="673">Gennadij</text></g>
<g id="n224"><use href="#c" x="410" y="662"/><text class="u" x="410" y="673">Lena<tspan x="410" dy="5.5">Nykolajevna</tspan><tspan x="410" dy="5.5">Kontyenyova</tspan></text></g>
<g id="n225"><use href="#s" x="433" y="662"/><text class="u" x="433" y="673">Ivme</text></g>
<g id="n226"><use href="#c" x="460" y="662"/><text class="u" x="460" y="673">Larissza<tspan x="460" dy="5.5">Aleksandrovna</tspan><tspan x="460" dy="5.5">(nyenyec)</tspan></text></g>
<g id="n227"><use href="#s" x="492" y="662"/><text class="u" x="492" y="673">Venjamin<tspan x="492" dy="5.5">Petrovics</tspan><tspan x="492" dy="5.5">Polasz</tspan></text></g>
<g id="n228"><use href="#c" x="513" y="662"/><text class="u" x="513" y="673">Agafja</text></g>
<g id="n229"><use href="#s" x="530" y="662"/><text class="u" x="530" y="673">Arkas</text></g>
<g id="n230"><use href="#s" x="551" y="662"/><text class="u" x="551" y="673">Szergej<tspan x="551" dy="5.5">Szemjonovics</tspan><tspan x="551" dy="5.5">Japov</tspan></text></g>
<g id="n231"><use href="#c" x="574" y="662"/><text class="u" x="574" y="673">Ida</text></g>
<g id="n232"><use href="#s" x="599" y="662"/><text class="u" x="599" y="673">Alona<tspan x="599" dy="5.5">Vlagyimirovics</tspan><tspan x="599" dy="5.5">Nyenyetov</tspan></text></g>
<g id="n233"><use href="#c" x="624" y="662"/><text class="u" x="624" y="673">Jule</text></g>
<g id="n234"><use href="#s" x="381" y="707"/><text class="u" x="381" y="718">Vologya</text></g>
<g id="n235"><use href="#c" x="396" y="707"/><text class="u" x="396" y="718">Olga</text></g>
<g id="n236"><use href="#s" x="412" y="707"/><text class="u" x="412" y="718">Nykita</text></g>
<g id="n237"><use href="#s" x="433" y="707"/><text class="u" x="433" y="718">Andrej</text></g>
<g id="n238"><use href="#c" x="460" y="707"/><text class="u" x="460" y="718">Nadja</text></g>
<g id="n239"><use href="#s" x="535" y="710"/><text class="u" x="535" y="721">Gosa<tspan x="535" dy="5.5">Anasztasievics</tspan><tspan x="535" dy="5.5">(nyenyec)</tspan></text></g>
<g id="n240"><use href="#c" x="560" y="707"/><text class="u" x="560" y="718">Szveta</text></g>
<g id="n241"><use href="#s" x="577" y="707"/><text class="u" x="577" y="718">Anatolij</text></g>
<g id="n242"><use href="#c" x="601" y="713"/></g>
<g id="n243"><use href="#c" x="624" y="713"/><text class="u" x="626" y="724">Tanya</text></g>
<g id="n244"><use href="#s" x="643" y="713"/><text class="u" x="643" y="724">Artyom</text></g>
<g id="n245"><use href="#c" x="661" y="713"/><text class="u" x="660" y="724">Marta</text></g>
<g id="n246"><use href="#s" x="680" y="713"/><text class="u" x="679" y="724">Szergej</text></g>
<g id="n247"><use href="#s" x="641" y="451"/><text class="u" x="641" y="462">Dmitrij<tspan x="641" dy="5.5">Longortov</tspan></text></g>
<g id="n248"><use href="#c" x="672" y="451"/><text class="u" x="672" y="462">Agrippina<tspan x="672" dy="5.5">Dmitrijevna</tspan><tspan x="672" dy="5.5">Togaszova ?</tspan></text></g>
<g id="n249"><use href="#s" x="519" y="503"/><text class="u" x="519" y="514">Andrej</text></g>
<g id="n250"><use href="#c" x="550" y="503"/><text class="u" x="550" y="514">Anasztaszja<tspan x="550" dy="5.5">Grigorjevna</tspan><tspan x="550" dy="5.5">Talgina?</tspan></text></g>
<g id="n251"><use href="#s" x="587" y="503"/><text class="u" x="587" y="514">Sztyepan</text></g>
<g id="n252"><use href="#c" x="621" y="503"/><text class="u" x="621" y="514">Natalia<tspan x="621" dy="5.5">Szemjonovna</tspan><tspan x="621" dy="5.5">Pitrova</tspan></text></g>
<g id="n253"><use href="#c" x="659" y="503"/><text class="u" x="659" y="514">Anasztaszja<tspan x="659" dy="5.5">Mihajlovna</tspan><tspan x="659" dy="5.5">Jeszova</tspan></text></g>
<g id="n254"><use href="#s" x="682" y="503"/><text class="u" x="682" y="514">Jegor</text></g>
<g id="n255"><use href="#c" x="700" y="503"/><text class="u" x="700" y="514">Zoja</text></g>
<g id="n256"><use href="#s" x="719" y="503"/><text class="u" x="717" y="514">Vlagyimir</text></g>
<g id="n257"><use href="#c" x="745" y="503"/><text class="u" x="745" y="514">Lena<tspan x="745" dy="5.5">Nykolajevna</tspan><tspan x="745" dy="5.5">Pugacsova</tspan></text></g>
<g id="n258"><use href="#s" x="764" y="503"/><text class="u" x="766" y="514">Tymofij</text></g>
<g id="n259"><use href="#s" x="492" y="549"/><text class="u" x="492" y="560">Valerij</text></g>
<g id="n260"><use href="#s" x="513" y="549"/><text class="u" x="513" y="560">Szava</text></g>
<g id="n261"><use href="#c" x="533" y="549"/><text class="u" x="533" y="560">Gyina</text></g>
<g id="n262"><use href="#c" x="549" y="549"/><text class="u" x="549" y="560">Lilja</text></g>
<g id="n263"><use href="#s" x="565" y="549"/><text class="u" x="565" y="560">Borisz</text></g>
<g id="n264"><use href="#s" x="584" y="549"/><text class="u" x="583" y="560">Gennadij</text></g>
<g id="n265"><use href="#c" x="608" y="549"/><text class="u" x="608" y="560">Raja<tspan x="608" dy="5.5">Lazarevna</tspan><tspan x="608" dy="5.5">Valgamova</tspan></text></g>
<g id="n266"><use href="#s" x="624" y="549"/></g>
<g id="n267"><use href="#c" x="637" y="549"/><text class="u" x="638" y="560">Emma</text></g>
<g id="n268"><use href="#c" x="653" y="549"/><text class="u" x="653" y="560">Lujza</text></g>
<g id="n269"><use href="#s" x="669" y="549"/><text class="u" x="669" y="560">Igor</text></g>
<g id="n270"><use href="#c" x="682" y="549"/><text class="u" x="682" y="560">Polja</text></g>
<g id="n271"><use href="#c" x="698" y="549"/><text class="u" x="698" y="560">Ljuda</text></g>
<g id="n272"><use href="#c" x="714" y="549"/><text class="u" x="714" y="560">Szveta</text></g>
<g id="n273"><use href="#s" x="732" y="549"/><text class="u" x="733" y="560">Dmitrij</text></g>
<g id="n274"><use href="#s" x="567" y="593"/></g>
<g id="n275"><use href="#s" x="581" y="593"/></g>
<g id="n276"><use href="#s" x="596" y="593"/></g>
<g id="n277"><use href="#c" x="611" y="593"/></g>
<g id="n278"><use href="#s" x="413" y="730"/><text class="u" x="413" y="741">Szemjon<tspan x="413" dy="5.5">Ivanovics</tspan><tspan x="413" dy="5.5">Longortov</tspan></text></g>
<g id="n279"><use href="#c" x="449" y="733"/><text class="u" x="449" y="744">Maria<tspan x="449" dy="5.5">Mitrofanovna</tspan><tspan x="449" dy="5.5">?</tspan></text></g>
<g id="n280"><use href="#s" x="397" y="779"/><text class="u" x="397" y="790">Jegor</text></g>
<g id="n281"><use href="#c" x="423" y="779"/><text class="u" x="423" y="790">Varvara<tspan x="423" dy="5.5">Nykolajevna</tspan><tspan x="423" dy="5.5">Kurtjanova (e)</tspan></text></g>
<g id="n282"><use href="#s" x="515" y="779"/><text class="u" x="515" y="790">Daniil</text></g>
<g id="n283"><use href="#c" x="560" y="779"/><text class="u" x="560" y="790">Anna<tspan x="560" dy="5.5">Mitrofanovna</tspan><tspan x="560" dy="5.5">Kurtjanova (p)</tspan></text></g>
<g id="n284"><use href="#s" x="595" y="779"/><text class="u" x="594" y="790">Pavel</text></g>
<g id="n285"><use href="#c" x="624" y="779"/><text class="u" x="624" y="790">Natalia Jegorovna<tspan x="624" dy="5.5">Tyerentyeva</tspan><tspan x="624" dy="5.5">(zsido)</tspan></text></g>
<g id="n286"><use href="#s" x="666" y="779"/><text class="u" x="666" y="790">Konsztantyin</text></g>
<g id="n287"><use href="#c" x="700" y="779"/><text class="u" x="700" y="790">Anasztaszja<tspan x="700" dy="5.5">Danyilovna</tspan></text></g>
<g id="n288"><use href="#c" x="370" y="823"/><text class="u" x="370" y="834">Szvetlana<tspan x="370" dy="5.5">Vaszilijevna</tspan><tspan x="370" dy="5.5">Makarova</tspan></text></g>
<g id="n289"><use href="#s" x="390" y="823"/><text class="u" x="391" y="834">Andrej</text></g>
<g id="n290"><use href="#s" x="405" y="823"/></g>
<g id="n291"><use href="#c" x="418" y="823"/><text class="u" x="419" y="834">Elvira</text></g>
<g id="n292"><use href="#s" x="439" y="823"/><text class="u" x="440" y="834">Valentyin</text></g>
<g id="n293"><use href="#c" x="349" y="873"/><text class="u" x="349" y="884">Kszenia</text></g>
<g id="n294"><use href="#s" x="370" y="873"/><text class="u" x="369" y="884">Nykita</text></g>
<g id="n295"><use href="#c" x="387" y="873"/><text class="u" x="386" y="884">Jana</text></g>
<g id="n296"><use href="#c" x="399" y="873"/></g>
<g id="n297"><use href="#s" x="415" y="873"/><text class="u" x="415" y="884">Roman</text></g>
<g id="n298"><use href="#s" x="463" y="823"/><text class="u" x="463" y="834">Jeremjan<tspan x="463" dy="5.5">Jegorovics</tspan><tspan x="463" dy="5.5">Polasz</tspan></text></g>
<g id="n299"><use href="#c" x="484" y="823"/><text class="u" x="484" y="834">Taszja</text></g>
<g id="n300"><use href="#s" x="502" y="823"/><text class="u" x="502" y="834">Anatolij</text></g>
<g id="n301"><use href="#c" x="527" y="823"/><text class="u" x="527" y="834">Dorja<tspan x="527" dy="5.5">Petrovna</tspan><tspan x="527" dy="5.5">Rohlimova</tspan></text></g>
<g id="n302"><use href="#s" x="545" y="823"/><text class="u" x="545" y="834">Jens</text></g>
<g id="n303"><use href="#s" x="558" y="823"/><text class="u" x="559" y="834">Dorosz</text></g>
<g id="n304"><use href="#c" x="578" y="823"/><text class="u" x="578" y="834">Larisza</text></g>
<g id="n305"><use href="#s" x="458" y="872"/><text class="u" x="458" y="883">Ljova</text></g>
<g id="n306"><use href="#s" x="475" y="872"/><text class="u" x="475" y="883">Igor</text></g>
<g id="n307"><use href="#s" x="491" y="872"/><text class="u" x="491" y="883">Aljosa</text></g>
<g id="n308"><use href="#c" x="510" y="872"/><text class="u" x="510" y="883">Marina</text></g>
<g id="n309"><use href="#s" x="531" y="872"/><text class="u" x="531" y="883">Szaszik</text></g>
<g id="n310"><use href="#c" x="549" y="872"/><text class="u" x="549" y="883">Katya</text></g>
<g id="n311"><use href="#c" x="565" y="872"/></g>
<g id="n312"><use href="#s" x="601" y="823"/><text class="u" x="600" y="834">Vlagyimir</text></g>
<g id="n313"><use href="#s" x="621" y="823"/><text class="u" x="621" y="834">Szerge</text></g>
<g id="n314"><use href="#c" x="642" y="823"/><text class="u" x="642" y="834">Valja<tspan x="642" dy="5.5">Vaszilijevna</tspan><tspan x="642" dy="5.5">Pugacsova</tspan></text></g>
<g id="n315"><use href="#s" x="666" y="823"/><text class="u" x="666" y="834">Nykolaj</text></g>
<g id="n316"><use href="#c" x="692" y="823"/><text class="u" x="692" y="834">Jekatyerina<tspan x="692" dy="5.5">Viktorovna</tspan><tspan x="692" dy="5.5">Rohlimova?</tspan></text></g>
<g id="n317"><use href="#c" x="722" y="823"/><text class="u" x="722" y="834">Nagyezsda</text></g>
<g id="n318"><use href="#s" x="510" y="896"/><text class="u" x="510" y="907">Makszim<tspan x="510" dy="5.5">Longortov</tspan></text></g>
<g id="n319"><use href="#c" x="543" y="896"/><text class="u" x="543" y="907">Maria<tspan x="543" dy="5.5">Ivanovna</tspan></text></g>
<g id="n320"><use href="#c" x="453" y="941"/><text class="u" x="453" y="952">Jevdokija</text></g>
<g id="n321"><use href="#c" x="487" y="941"/><text class="u" x="487" y="952">Paraszkovija</text></g>
<g id="n322"><use href="#c" x="513" y="941"/><text class="u" x="513" y="952">Pelagia</text></g>
<g id="n323"><use href="#s" x="537" y="941"/><text class="u" x="536" y="952">Jegor</text></g>
<g id="n324"><use href="#c" x="560" y="941"/><text class="u" x="560" y="952">Anasztaszja<tspan x="560" dy="5.5">Nykolajevna</tspan><tspan x="560" dy="5.5">Szurina</tspan></text></g>
<g id="n325"><use href="#s" x="591" y="941"/><text class="u" x="591" y="952">Gavril</text></g>
<g id="n326"><use href="#s" x="422" y="987"/><text class="u" x="422" y="998">Szasa</text></g>
<g id="n327"><use href="#s" x="447" y="987"/><text class="u" x="447" y="998">Makar</text></g>
<g id="n328"><use href="#s" x="481" y="987"/><text class="u" x="481" y="998">Borja</text></g>
<g id="n329"><use href="#s" x="510" y="987"/><text class="u" x="510" y="998">Anton</text></g>
<g id="n330"><use href="#c" x="534" y="987"/><text class="u" x="534" y="998">Katya<tspan x="534" dy="5.5">Leonatyjevna</tspan><tspan x="534" dy="5.5">Rebina</tspan></text></g>
<g id="n331"><use href="#s" x="557" y="987"/><text class="u" x="557" y="998">Joszif</text></g>
<g id="n332"><use href="#c" x="579" y="987"/><text class="u" x="579" y="998">Nynocska<tspan x="579" dy="5.5">Lazarevna</tspan><tspan x="579" dy="5.5">Valgamova</tspan></text></g>
<g id="n333"><use href="#s" x="605" y="987"/><text class="u" x="605" y="998">Vaszilij</text></g>
<g id="n334"><use href="#c" x="634" y="987"/><text class="u" x="634" y="998">Nadja<tspan x="634" dy="5.5">Ivanovna</tspan><tspan x="634" dy="5.5">Noszkina</tspan></text></g>
<g id="n335"><use href="#s" x="458" y="1033"/><text class="u" x="458" y="1044">Pavel<tspan x="458" dy="5.5">Pavlovics</tspan><tspan x="458" dy="5.5">Kurtjanov (p)</tspan></text></g>
<g id="n336"><use href="#c" x="481" y="1033"/><text class="u" x="481" y="1044">Lena</text></g>
<g id="n337"><use href="#c" x="505" y="1033"/><text class="u" x="505" y="1044">Masa</text></g>
<g id="n338"><use href="#c" x="521" y="1033"/><text class="u" x="521" y="1044">Ljuda</text></g>
<g id="n339"><use href="#s" x="537" y="1033"/><text class="u" x="537" y="1044">Ilja</text></g>
<g id="n340"><use href="#c" x="525" y="1063"/><text class="u" x="525" y="1074">Maria</text></g>
<g id="n341"><use href="#s" x="548" y="1063"/><text class="u" x="547" y="1074">Jevgenyij</text></g>
<g id="n342"><use href="#s" x="565" y="1063"/><text class="u" x="564" y="1074">Nykita</text></g>
<g id="n343"><use href="#s" x="580" y="1063"/><text class="u" x="580" y="1074">Vitalij</text></g>
<g id="n344"><use href="#s" x="591" y="1063"/></g>
<g id="n345"><use href="#s" x="604" y="1063"/><text class="u" x="605" y="1074">Gyima</text></g>
<g id="n346"><use href="#s" x="589" y="1033"/><text class="u" x="590" y="1044">Jegor</text></g>
<g id="n347"><use href="#c" x="607" y="1033"/></g>
<g id="n348"><use href="#s" x="626" y="1033"/><text class="u" x="626" y="1044">Makszim</text></g>
<g id="n349"><use href="#s" x="645" y="1033"/><text class="u" x="645" y="1044">Ivan</text></g>
<g id="n350"><use href="#c" x="664" y="1033"/><text class="u" x="664" y="1044">Anyuta</text></g>
<g id="n351"><use href="#s" x="217" y="869"/><text class="u" x="217" y="880">Nyikolaj<tspan x="217" dy="5.5">Vaszilijevics</tspan><tspan x="217" dy="5.5">Longortov</tspan></text></g>
<g id="n352"><use href="#c" x="252" y="869"/><text class="u" x="252" y="880">Maria<tspan x="252" dy="5.5">Ivanovna</tspan><tspan x="252" dy="5.5">Talgina</tspan></text></g>
<g id="n353"><use href="#s" x="100" y="917"/><text class="u" x="100" y="928">Pjotr</text></g>
<g id="n354"><use href="#c" x="127" y="917"/><text class="u" x="127" y="928">Alekszandra<tspan x="127" dy="5.5">Matvejevna</tspan><tspan x="127" dy="5.5">Talgina</tspan></text></g>
<g id="n355"><use href="#s" x="222" y="917"/><text class="u" x="222" y="928">Mirasl</text></g>
<g id="n356"><use href="#s" x="310" y="917"/><text class="u" x="310" y="928">Grigorij</text></g>
<g id="n357"><use href="#c" x="334" y="917"/><text class="u" x="334" y="928">Piszova</text></g>
<g id="n358"><use href="#c" x="351" y="917"/><text class="u" x="351" y="928">Jelena</text></g>
<g id="n359"><use href="#s" x="368" y="917"/><text class="u" x="368" y="928">Jermil</text></g>
<g id="n360"><use href="#c" x="386" y="917"/><text class="u" x="386" y="928">Tatjana</text></g>
<g id="n361"><use href="#s" x="413" y="917"/><text class="u" x="413" y="928">Vlagyimir<tspan x="413" dy="5.5">Mitrofanovics</tspan><tspan x="413" dy="5.5">Kurtjanov (p)</tspan></text></g>
<g id="n362"><use href="#s" x="442" y="917"/><text class="u" x="442" y="928">Nykolaj</text></g>
<g id="n363"><use href="#s" x="465" y="917"/><text class="u" x="465" y="928">Anatolij</text></g>
<g id="n364"><use href="#c" x="315" y="962"/><text class="u" x="315" y="973">Ljuda</text></g>
<g id="n365"><use href="#s" x="342" y="962"/><text class="u" x="342" y="973">Joszif<tspan x="342" dy="5.5">Alekszejevics</tspan><tspan x="342" dy="5.5">Talgin</tspan></text></g>
<g id="n366"><use href="#c" x="368" y="962"/><text class="u" x="368" y="973">Szonja</text></g>
<g id="n367"><use href="#s" x="387" y="962"/><text class="u" x="387" y="973">Emil</text></g>
<g id="n368"><use href="#s" x="32" y="963"/><text class="u" x="32" y="974">Filip<tspan x="32" dy="5.5">Grigorjevics</tspan><tspan x="32" dy="5.5">Afanaszjev</tspan></text></g>
<g id="n369"><use href="#c" x="55" y="963"/><text class="u" x="55" y="974">Akulina</text></g>
<g id="n370"><use href="#s" x="77" y="963"/><text class="u" x="77" y="974">Viktor</text></g>
<g id="n371"><use href="#c" x="100" y="963"/><text class="u" x="100" y="974">Anna<tspan x="100" dy="5.5">Gavrilovna</tspan><tspan x="100" dy="5.5">Kurtjanova(p)</tspan></text></g>
<g id="n372"><use href="#s" x="122" y="963"/><text class="u" x="122" y="974">(ornol)</text></g>
<g id="n373"><use href="#c" x="137" y="963"/><text class="u" x="138" y="974">Valja</text></g>
<g id="n374"><use href="#c" x="155" y="963"/><text class="u" x="155" y="974">Javdokija</text></g>
<g id="n375"><use href="#s" x="182" y="963"/><text class="u" x="182" y="974">Kosztya</text></g>
<g id="n376"><use href="#s" x="207" y="963"/><text class="u" x="207" y="974">Jevgenyij</text></g>
<g id="n377"><use href="#c" x="238" y="963"/><text class="u" x="238" y="974">Olkszana<tspan x="238" dy="5.5">Anatoljevna</tspan><tspan x="238" dy="5.5">Kurtjanova (p?)</tspan></text></g>
<g id="n378"><use href="#s" x="265" y="963"/><text class="u" x="265" y="974">Pav</text></g>
<g id="n379"><use href="#c" x="288" y="963"/><text class="u" x="290" y="974">Olga<tspan x="290" dy="5.5">Tulmofejevna</tspan><tspan x="290" dy="5.5">Longortova(owa)</tspan></text></g>
<g id="n380"><use href="#s" x="182" y="1012"/><text class="u" x="182" y="1023">Vitali</text></g>
<g id="n381"><use href="#s" x="198" y="1012"/><text class="u" x="197" y="1023">Pjotr</text></g>
<g id="n382"><use href="#c" x="218" y="1012"/><text class="u" x="218" y="1023">Alekszandra</text></g>
<g id="n383"><use href="#s" x="243" y="1012"/><text class="u" x="243" y="1023">Jegor</text></g>
<g id="n384"><use href="#s" x="262" y="1012"/><text class="u" x="262" y="1023">Damian</text></g>
<g id="n385"><use href="#s" x="287" y="1012"/><text class="u" x="287" y="1023">Nykolaj</text></g>
<g id="n386"><use href="#s" x="122" y="713"/><text class="u" x="122" y="724">Vlagyimir<tspan x="122" dy="5.5">Petrovics</tspan><tspan x="122" dy="5.5">Talgin</tspan></text></g>
<g id="n387"><use href="#c" x="152" y="713"/><text class="u" x="152" y="724">Natasa</text></g>
<g id="n388"><use href="#s" x="172" y="713"/><text class="u" x="172" y="724">Romanko<tspan x="172" dy="5.5">(vitis)</tspan></text></g>
<g id="n389"><use href="#c" x="193" y="713"/><text class="u" x="193" y="724">Duszja</text></g>
<g id="n390"><use href="#s" x="207" y="713"/><text class="u" x="208" y="724">Pjotr</text></g>
<g id="n391"><use href="#c" x="232" y="713"/><text class="u" x="232" y="724">Alekszandra<tspan x="232" dy="5.5">Mihajlovna</tspan><tspan x="232" dy="5.5">Talgina</tspan></text></g>
<g id="n392"><use href="#s" x="258" y="713"/><text class="u" x="258" y="724">Szergej</text></g>
<g id="n393"><use href="#s" x="287" y="713"/><text class="u" x="287" y="724">Zenov<tspan x="287" dy="5.5">(grasz)</tspan></text></g>
<g id="n394"><use href="#c" x="305" y="713"/><text class="u" x="304" y="724">Valja</text></g>
<g id="n395"><use href="#s" x="318" y="713"/><text class="u" x="319" y="724">Szlove</text></g>
<g id="n396"><use href="#c" x="342" y="713"/><text class="u" x="342" y="724">Valja<tspan x="342" dy="5.5">Jakovlevna</tspan><tspan x="342" dy="5.5">Tihova</tspan><tspan x="342" dy="5.5">?</tspan></text></g>
<g id="n397"><use href="#s" x="133" y="762"/><text class="u" x="133" y="773">Ljonya</text></g>
<g id="n398"><use href="#c" x="153" y="762"/></g>
<g id="n399"><use href="#c" x="172" y="762"/><text class="u" x="172" y="773">Lona</text></g>
<g id="n400"><use href="#s" x="193" y="762"/><text class="u" x="193" y="773">Erik<tspan x="195" dy="5.5">Kozlov</tspan></text></g>
<g id="n401"><use href="#s" x="225" y="762"/><text class="u" x="224" y="773">Haritonov</text></g>
<g id="n402"><use href="#c" x="243" y="762"/><text class="u" x="244" y="773">Alla</text></g>
<g id="n403"><use href="#c" x="133" y="796"/></g>
<g id="n404"><use href="#c" x="153" y="796"/></g>
<g id="n405"><use href="#c" x="272" y="762"/><text class="u" x="272" y="773">Nasztya</text></g>
<g id="n406"><use href="#s" x="292" y="762"/><text class="u" x="292" y="773">Kolja</text></g>
<g id="n407"><use href="#c" x="315" y="762"/><text class="u" x="315" y="773">Marina</text></g>
<g id="n408"><use href="#s" x="335" y="762"/><text class="u" x="335" y="773">Kosztya</text></g>
<g id="n409"><use href="#c" x="357" y="762"/><text class="u" x="357" y="773">Vika</text></g>
</g>
</svg>
